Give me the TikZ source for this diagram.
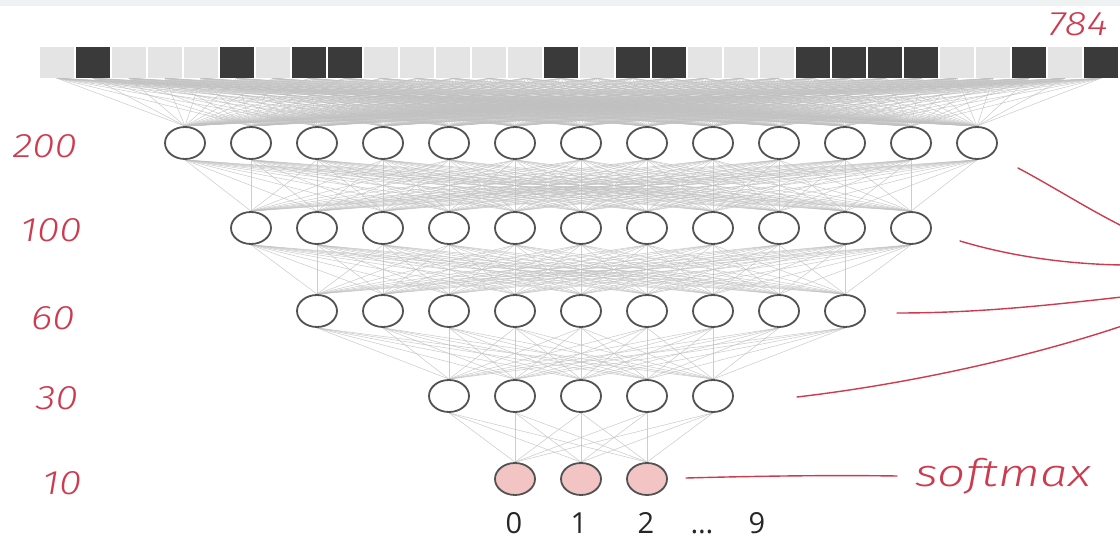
\documentclass[tikz,border=0pt]{standalone}
\usepackage{fontspec}
\setmainfont{Open Sans}
\newfontfamily\handfont{Fira Sans}[UprightFont=* Light, ItalicFont=* Light Italic]
\usetikzlibrary{shapes.geometric,backgrounds}
\definecolor{handred}{RGB}{206,58,78}
\definecolor{edgegray}{RGB}{192,192,192}
\definecolor{pixlight}{RGB}{228,228,228}
\definecolor{pixdark}{RGB}{58,58,58}
\definecolor{outpink}{RGB}{243,196,196}
\definecolor{bandgray}{RGB}{238,242,243}
\begin{document}
\begin{tikzpicture}[x=1pt,y=-1pt,
  neuron/.style={ellipse,draw=black!68,line width=1.8pt,fill=white,
    minimum width=40pt,minimum height=32pt,inner sep=0pt},
  outneuron/.style={neuron,fill=outpink},
  pixel/.style={rectangle,fill=pixlight,minimum width=34pt,minimum height=31pt,inner sep=0pt},
  edge/.style={draw=edgegray,line width=0.55pt,opacity=0.8},
  hand/.style={font=\handfont\itshape\fontsize{34}{34}\selectfont,text=handred,inner sep=0pt},
  handline/.style={draw=handred,line width=1.4pt,line cap=round},
  digit/.style={font=\fontsize{29}{29}\selectfont,text=black!85,anchor=base,inner sep=0pt}]
  \useasboundingbox (0,0) rectangle (1120,543);
  \fill[bandgray] (0,0) rectangle (1120,6);
  % input pixels
  \foreach \i in {0,...,29}
    \node[pixel] (p\i) at ({57+36*\i},62.5) {};
  \foreach \i in {1,5,7,8,14,16,17,21,22,23,24,27,29}
    \fill[pixdark] (p\i.south west) rectangle (p\i.north east);
  % layers
  \foreach \i in {1,...,13}
    \node[neuron] (a\i) at ({185+66*(\i-1)},143) {};
  \foreach \i in {1,...,11}
    \node[neuron] (b\i) at ({251+66*(\i-1)},228) {};
  \foreach \i in {1,...,9}
    \node[neuron] (c\i) at ({317+66*(\i-1)},311) {};
  \foreach \i in {1,...,5}
    \node[neuron] (d\i) at ({449+66*(\i-1)},396) {};
  \foreach \i in {1,...,3}
    \node[outneuron] (o\i) at ({515+66*(\i-1)},479) {};
  % weights
  \begin{pgfonlayer}{background}
    \foreach \i in {0,...,29} \foreach \j in {1,...,13}
      \draw[edge] (p\i.south) -- (a\j.north);
    \foreach \i in {1,...,13} \foreach \j in {1,...,11}
      \draw[edge] (a\i.south) -- (b\j.north);
    \foreach \i in {1,...,11} \foreach \j in {1,...,9}
      \draw[edge] (b\i.south) -- (c\j.north);
    \foreach \i in {1,...,9} \foreach \j in {1,...,5}
      \draw[edge] (c\i.south) -- (d\j.north);
    \foreach \i in {1,...,5} \foreach \j in {1,...,3}
      \draw[edge] (d\i.south) -- (o\j.north);
  \end{pgfonlayer}
  % outputs
  \node[digit] (y0) at (514,533) {0};
  \node[digit] (y1) at (579,533) {1};
  \node[digit] (y2) at (646,533) {2};
  \node[digit] (ydots) at (702,533) {…};
  \node[digit] (y9) at (757,533) {9};
  % handwritten sizes
  \node[hand] (n784) at (1078,24) {\scalebox{1.2}[1]{784}};
  \node[hand] (n200) at (45,146) {\scalebox{1.2}[1]{200}};
  \node[hand] (n100) at (51,230) {\scalebox{1.2}[1]{100}};
  \node[hand] (n60) at (53,318) {\scalebox{1.2}[1]{60}};
  \node[hand] (n30) at (57,398) {\scalebox{1.2}[1]{30}};
  \node[hand] (n10) at (62,483) {\scalebox{1.2}[1]{10}};
  \node[hand,font=\handfont\itshape\fontsize{38}{38}\selectfont] (smax) at (1003,476) {\scalebox{1.3}[1]{softmax}};
  \coordinate (s200) at (1018,168);
  \coordinate (e200) at (1122,226);
  \coordinate (s100) at (960,241);
  \coordinate (e100) at (1122,265);
  \coordinate (s60) at (897,313);
  \coordinate (e60) at (1122,297);
  \coordinate (s30) at (797,397);
  \coordinate (e30) at (1122,326);
  \coordinate (s10) at (686,478);
  \draw[handline] (s200) .. controls (1052,186) and (1088,209) .. (e200);
  \draw[handline] (s100) .. controls (1010,256) and (1065,264) .. (e100);
  \draw[handline] (s60) .. controls (980,313) and (1050,305) .. (e60);
  \draw[handline] (s30) .. controls (900,385) and (1020,360) .. (e30);
  \draw[handline] (s10) .. controls (760,476) and (830,475) .. ([xshift=-18pt]smax.west);
\end{tikzpicture}
\end{document}
